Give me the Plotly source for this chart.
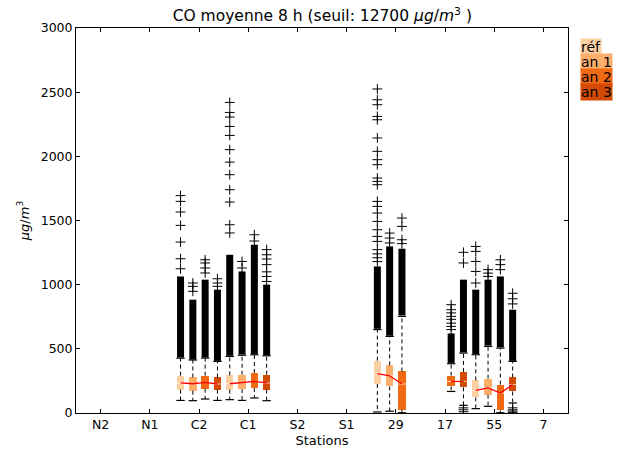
import plotly.graph_objects as go

# ---------------- data ----------------
stations = ["N2", "N1", "C2", "C1", "S2", "S1", "29", "17", "55", "7"]
series = ["réf", "an 1", "an 2", "an 3"]
colors = {"réf": "#fdd0a2", "an 1": "#fdae6b", "an 2": "#f16913", "an 3": "#d24a04"}
offsets = {"réf": -0.375, "an 1": -0.125, "an 2": 0.125, "an 3": 0.375}

N = None
q1 = {
    "réf":  [N, N, 182, 182, N, N, 226, N, 122, N],
    "an 1": [N, N, 174, 187, N, N, 207, N, 143, N],
    "an 2": [N, N, 189, 195, N, N, 26, 207, 20, N],
    "an 3": [N, N, 182, 182, N, N, N, 200, 168, N],
}
median = {
    "réf":  [N, N, 234, 228, N, N, 306, N, 176, N],
    "an 1": [N, N, 228, 238, N, N, 290, N, 195, N],
    "an 2": [N, N, 238, 246, N, N, 226, 246, 156, N],
    "an 3": [N, N, 226, 234, N, N, N, 246, 221, N],
}
q3 = {
    "réf":  [N, N, 291, 293, N, N, 408, N, 254, N],
    "an 1": [N, N, 277, 298, N, N, 371, N, 267, N],
    "an 2": [N, N, 291, 312, N, N, 324, 291, 221, N],
    "an 3": [N, N, 277, 298, N, N, N, 320, 277, N],
}
whisk_lo = {
    "réf":  [N, N, 98, 104, N, N, 8, N, 34, N],
    "an 1": [N, N, 96, 98, N, N, 14, N, 52, N],
    "an 2": [N, N, 109, 117, N, N, 2, 168, 2, N],
    "an 3": [N, N, 98, 96, N, N, N, 60, 78, N],
}
whisk_hi = {
    "réf":  [N, N, 427, 441, N, N, 650, N, 454, N],
    "an 1": [N, N, 413, 450, N, N, 597, N, 519, N],
    "an 2": [N, N, 428, 454, N, N, 753, 384, 506, N],
    "an 3": [N, N, 402, 446, N, N, N, 467, 402, N],
}
# dense run of outliers (first / last value of the packed range)
dense_lo = {
    "réf":  [N, N, 432, 446, N, N, 656, N, 460, N],
    "an 1": [N, N, 416, 455, N, N, 602, N, 525, N],
    "an 2": [N, N, 432, 460, N, N, 760, 390, 512, N],
    "an 3": [N, N, 406, 450, N, N, N, 472, 406, N],
}
dense_hi = {
    "réf":  [N, N, 1064, 1233, N, N, 1142, N, 961, N],
    "an 1": [N, N, 883, 1103, N, N, 1298, N, 1039, N],
    "an 2": [N, N, 1039, 1311, N, N, 1280, 620, 1064, N],
    "an 3": [N, N, 961, 1000, N, N, N, 1039, 805, N],
}
# isolated outliers
outliers = {
    "réf": [[], [], [1124, 1202, 1332, 1462, 1566, 1649, 1694],
            [1403, 1467, 1644, 1740, 1857, 1955, 2052, 2163, 2233, 2306, 2342, 2420],
            [], [],
            [1180, 1210, 1240, 1273, 1337, 1376, 1428, 1493, 1558, 1610, 1649, 1779,
             1805, 1831, 1935, 1974, 2039, 2143, 2285, 2311, 2402, 2441, 2525],
            [], [1013, 1103, 1181, 1259, 1298], []],
    "an 1": [[], [], [948, 987, 1013], [1130, 1181], [], [], [1325, 1363, 1402],
             [], [1064, 1090, 1117], []],
    "an 2": [[], [], [1091, 1130, 1169, 1194], [1340, 1389], [], [],
             [1320, 1350, 1454, 1519], [650, 675, 700, 730, 753, 780, 805, 844],
             [1117, 1156, 1194], []],
    "an 3": [[], [], [987, 1013, 1046], [1025, 1064, 1100, 1156, 1200, 1233, 1273],
             [], [], [], [10, 25, 40, 1169, 1252], [5, 15, 25, 40, 850, 890, 933], []],
}

y_ticks = [0, 500, 1000, 1500, 2000, 2500, 3000]

# ---------------- figure ----------------
fig = go.Figure()
FONT = "DejaVu Sans"

def pos(s, i):
    return i + 1 + offsets[s]

# whiskers (dashed) and caps
for s in series:
    wx, wy = [], []
    for i in range(len(stations)):
        if q1[s][i] is None:
            continue
        p = pos(s, i)
        wx += [p, p, None, p, p, None]
        wy += [q3[s][i], whisk_hi[s][i], None, q1[s][i], whisk_lo[s][i], None]
    fig.add_trace(go.Scatter(x=wx, y=wy, mode="lines", showlegend=False, hoverinfo="skip",
                             line=dict(color="black", width=1, dash="4px,3px")))
    idx = [i for i in range(len(stations)) if q1[s][i] is not None]
    cx = [pos(s, i) for i in idx]
    cy = [whisk_lo[s][i] for i in idx] + [whisk_hi[s][i] for i in idx]
    fig.add_trace(go.Scatter(x=cx + cx, y=cy, mode="markers", showlegend=False,
                             hoverinfo="skip",
                             marker=dict(symbol="line-ew-open", size=6, color="black",
                                         line=dict(color="black", width=1.2))))

# boxes
for s in series:
    bx, base, height = [], [], []
    for i in range(len(stations)):
        if q1[s][i] is None:
            continue
        bx.append(pos(s, i))
        base.append(q1[s][i])
        height.append(q3[s][i] - q1[s][i])
    fig.add_trace(go.Bar(x=bx, y=height, base=base, width=0.15, name=s, showlegend=False,
                         hoverinfo="skip",
                         marker=dict(color=colors[s], line=dict(width=0))))

# median ticks inside boxes
for s in series:
    mx = [pos(s, i) for i in range(len(stations)) if median[s][i] is not None]
    my = [median[s][i] for i in range(len(stations)) if median[s][i] is not None]
    fig.add_trace(go.Scatter(x=mx, y=my, mode="markers", showlegend=False, hoverinfo="skip",
                             marker=dict(symbol="line-ew-open", size=7,
                                         color="rgba(255,255,255,0.7)",
                                         line=dict(color="rgba(255,255,255,0.7)", width=1))))

# outliers: dense runs and isolated crosses
for s in series:
    dx, dy, ox, oy = [], [], [], []
    for i in range(len(stations)):
        if dense_lo[s][i] is None:
            continue
        p = pos(s, i)
        dx += [p, p, None]
        dy += [dense_lo[s][i], dense_hi[s][i], None]
        for v in outliers[s][i]:
            ox.append(p)
            oy.append(v)
    fig.add_trace(go.Scatter(x=dx, y=dy, mode="lines", showlegend=False, hoverinfo="skip",
                             line=dict(color="black", width=7)))
    fig.add_trace(go.Scatter(x=ox, y=oy, mode="markers", showlegend=False, hoverinfo="skip",
                             marker=dict(symbol="cross-thin-open", size=7, color="black",
                                         line=dict(color="black", width=1))))

# red median lines per station
for i in range(len(stations)):
    mx = [pos(s, i) for s in series if median[s][i] is not None]
    my = [median[s][i] for s in series if median[s][i] is not None]
    if len(mx) > 1:
        fig.add_trace(go.Scatter(x=mx, y=my, mode="lines", showlegend=False, hoverinfo="skip",
                                 line=dict(color="red", width=1.3)))

# legend as coloured text boxes
legend_y = [0.951, 0.912, 0.873, 0.834]
for s, yy in zip(series, legend_y):
    fig.add_annotation(text=s, xref="paper", yref="paper", x=1.024, y=yy,
                       xanchor="left", yanchor="middle", showarrow=False,
                       bgcolor=colors[s], borderpad=0,
                       font=dict(family=FONT, size=14, color="black"))

axis_common = dict(showline=True, linecolor="black", linewidth=1, mirror="ticks",
                   ticks="inside", ticklen=4, tickcolor="black", showgrid=False,
                   zeroline=False, tickfont=dict(family=FONT, size=12.5, color="black"))

fig.update_layout(
    width=621, height=457,
    margin=dict(l=76, r=53, t=28, b=44),
    paper_bgcolor="white", plot_bgcolor="white",
    barmode="overlay", bargap=0,
    showlegend=False,
    title=dict(text="CO moyenne 8 h (seuil: 12700 <i>μg</i>/<i>m</i><sup>3</sup> )",
               x=0.519, xanchor="center", yref="container", y=0.965, yanchor="middle",
               font=dict(family=FONT, size=15.5, color="black")),
    xaxis=dict(range=[0.5, 10.5], tickvals=list(range(1, len(stations) + 1)),
               ticktext=stations,
               title=dict(text="Stations", standoff=4,
                          font=dict(family=FONT, size=13, color="black")),
               **axis_common),
    yaxis=dict(range=[0, 3000], tickvals=y_ticks, ticktext=[str(v) for v in y_ticks],
               title=dict(text="<i>μg</i>/<i>m</i><sup>3</sup>", standoff=8,
                          font=dict(family=FONT, size=13, color="black")),
               **axis_common),
)

fig.write_html("out.html",
               config={"displayModeBar": False},
               post_script="document.body.style.margin='0px';"
                           "document.body.style.overflow='hidden';")
